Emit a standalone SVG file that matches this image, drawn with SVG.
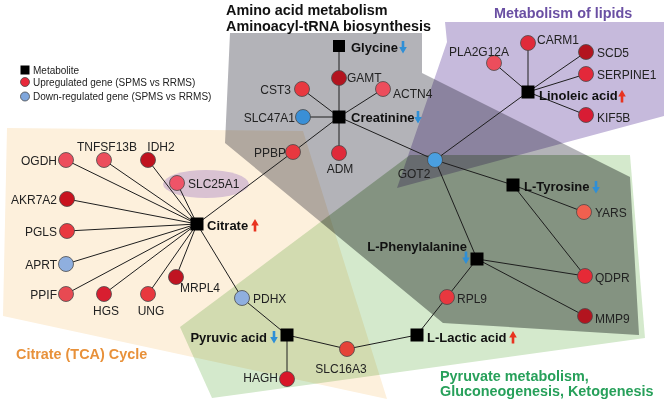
<svg xmlns="http://www.w3.org/2000/svg" xmlns:xlink="http://www.w3.org/1999/xlink" width="664" height="403" viewBox="0 0 664 403">
<style>
.t{font-family:"Liberation Sans",Arial,sans-serif;font-size:12px;fill:#222}
.m{font-family:"Liberation Sans",Arial,sans-serif;font-size:13px;font-weight:bold;fill:#111}
.h{font-family:"Liberation Sans",Arial,sans-serif;font-size:14.4px;font-weight:bold}
.lg{font-family:"Liberation Sans",Arial,sans-serif;font-size:10px;fill:#222}
.r{mix-blend-mode:multiply}
#edges line{stroke:#1e1e1e;stroke-width:1}
circle{stroke:#4a4a4a;stroke-width:0.8}
.sq{fill:#000}
.up{fill:#e8383f}.up2{fill:#e02a3a}.pk{fill:#ec4d5c}.dk{fill:#b3141f}.sa{fill:#f0604f}
.bl{fill:#3a8fd6}.lb{fill:#8fafdf}
</style>
<defs>
<path id="dn" d="M-1.3,-6h2.6v6h2.5L0,6.5L-3.8,0h2.5z" fill="#2f8fd6"/>
<path id="upa" d="M-1.3,6.5h2.6v-6h2.5L0,-6L-3.8,0.5h2.5z" fill="#e8331f"/>
<clipPath id="cg"><polygon points="180,327 410,155 630,155 645,338 212,398"/></clipPath>
</defs>
<rect width="664" height="403" fill="#fff"/>
<g id="regions">
<polygon class="r" points="7,128 303,131 387,399 3,316" fill="#fdf0dc"/>
<polygon class="r" points="230,33 422,33 422,73 630,177 639,335 443,323 225,143" fill="#b3b3b8"/>
<polygon class="r" points="180,327 410,155 630,155 645,338 212,398" fill="#d4e9cc"/>
<polygon class="r" points="230,33 422,33 422,73 630,177 639,335 443,323 225,143" fill="#e2e6e0" clip-path="url(#cg)"/>
<polygon class="r" points="445,22 664,22 664,116 397,188 447,42" fill="#c6badc"/>
<ellipse cx="206" cy="184" rx="43" ry="14" fill="#d9c2d2"/>
</g>
<g id="titles">
<text class="h" x="226" y="15" fill="#111">Amino acid metabolism</text>
<text class="h" x="226" y="31" fill="#111">Aminoacyl-tRNA biosynthesis</text>
<text class="h" x="494" y="17.5" fill="#6a4fa3">Metabolism of lipids</text>
<text class="h" x="16" y="359" fill="#e8913a">Citrate (TCA) Cycle</text>
<text class="h" x="440" y="381" fill="#27a05a">Pyruvate metabolism,</text>
<text class="h" x="440" y="396" fill="#27a05a">Gluconeogenesis, Ketogenesis</text>
</g>
<g id="legend">
<rect x="20.5" y="65.5" width="9" height="9" class="sq"/>
<text class="lg" x="33" y="73.5">Metabolite</text>
<circle cx="25" cy="82" r="4.5" fill="#e8283a"/>
<text class="lg" x="33" y="85.5">Upregulated gene (SPMS vs RRMS)</text>
<circle cx="25" cy="96.5" r="4.5" fill="#7fa6dc"/>
<text class="lg" x="33" y="100">Down-regulated gene (SPMS vs RRMS)</text>
</g>
<g id="edges">
<line x1="339" y1="46" x2="339" y2="117"/>
<line x1="339" y1="117" x2="302" y2="89"/>
<line x1="339" y1="117" x2="383" y2="89"/>
<line x1="339" y1="117" x2="303" y2="117"/>
<line x1="339" y1="117" x2="339" y2="153"/>
<line x1="339" y1="117" x2="293" y2="152"/>
<line x1="293" y1="152" x2="197" y2="224"/>
<line x1="339" y1="117" x2="435" y2="160"/>
<line x1="435" y1="160" x2="528" y2="92"/>
<line x1="435" y1="160" x2="513" y2="185"/>
<line x1="435" y1="160" x2="477" y2="259"/>
<line x1="528" y1="92" x2="494" y2="63"/>
<line x1="528" y1="92" x2="528" y2="43"/>
<line x1="528" y1="92" x2="586" y2="52"/>
<line x1="528" y1="92" x2="586" y2="74"/>
<line x1="528" y1="92" x2="586" y2="115"/>
<line x1="513" y1="185" x2="584" y2="212"/>
<line x1="513" y1="185" x2="585" y2="276"/>
<line x1="477" y1="259" x2="585" y2="276"/>
<line x1="477" y1="259" x2="585" y2="316"/>
<line x1="477" y1="259" x2="447" y2="297"/>
<line x1="447" y1="297" x2="417" y2="335"/>
<line x1="417" y1="335" x2="347" y2="349"/>
<line x1="347" y1="349" x2="287" y2="335"/>
<line x1="287" y1="335" x2="287" y2="379"/>
<line x1="287" y1="335" x2="242" y2="298"/>
<line x1="242" y1="298" x2="197" y2="224"/>
<line x1="197" y1="224" x2="66" y2="160"/>
<line x1="197" y1="224" x2="104" y2="160"/>
<line x1="197" y1="224" x2="148" y2="160"/>
<line x1="197" y1="224" x2="177" y2="183"/>
<line x1="197" y1="224" x2="67" y2="199"/>
<line x1="197" y1="224" x2="67" y2="231"/>
<line x1="197" y1="224" x2="66" y2="264"/>
<line x1="197" y1="224" x2="66" y2="294"/>
<line x1="197" y1="224" x2="104" y2="294"/>
<line x1="197" y1="224" x2="148" y2="294"/>
<line x1="197" y1="224" x2="176" y2="277"/>
</g>
<g id="nodes">
<g id="glycine"><rect class="sq" x="333" y="40" width="12" height="12"/><text class="m" x="351" y="51.5">Glycine</text><use href="#dn" x="403" y="47"/></g>
<g id="gamt"><circle class="dk" cx="339" cy="78" r="7.5"/><text class="t" x="347" y="82">GAMT</text></g>
<g id="cst3"><circle class="up" cx="302" cy="89" r="7.5"/><text class="t" x="291" y="94" text-anchor="end">CST3</text></g>
<g id="actn4"><circle class="pk" cx="383" cy="89" r="7.5"/><text class="t" x="393" y="97.5">ACTN4</text></g>
<g id="slc47a1"><circle class="bl" cx="303" cy="117" r="7.5"/><text class="t" x="295" y="121.5" text-anchor="end">SLC47A1</text></g>
<g id="creatinine"><rect class="sq" x="332.5" y="110.5" width="13" height="13"/><text class="m" x="351" y="122">Creatinine</text><use href="#dn" x="418" y="117"/></g>
<g id="adm"><circle class="up2" cx="339" cy="153" r="7.5"/><text class="t" x="340" y="172.5" text-anchor="middle">ADM</text></g>
<g id="ppbp"><circle class="up" cx="293" cy="152" r="7.5"/><text class="t" x="286" y="156.5" text-anchor="end">PPBP</text></g>
<g id="got2"><circle fill="#4a9fe0" cx="435" cy="160" r="7.5"/><text class="t" x="414" y="178" text-anchor="middle">GOT2</text></g>
<g id="linoleic"><rect class="sq" x="521.5" y="85.5" width="13" height="13"/><text class="m" x="539" y="100">Linoleic acid</text><use href="#upa" x="622" y="96"/></g>
<g id="pla2g12a"><circle class="pk" cx="494" cy="63" r="7.5"/><text class="t" x="479" y="56" text-anchor="middle">PLA2G12A</text></g>
<g id="carm1"><circle class="up2" cx="528" cy="43" r="7.5"/><text class="t" x="537" y="43.5">CARM1</text></g>
<g id="scd5"><circle class="dk" cx="586" cy="52" r="7.5"/><text class="t" x="597" y="57">SCD5</text></g>
<g id="serpine1"><circle fill="#e3283a" cx="586" cy="74" r="7.5"/><text class="t" x="597" y="79">SERPINE1</text></g>
<g id="kif5b"><circle fill="#d81c34" cx="586" cy="115" r="7.5"/><text class="t" x="597" y="121.5">KIF5B</text></g>
<g id="ltyrosine"><rect class="sq" x="506.5" y="178.5" width="13" height="13"/><text class="m" x="524" y="191">L-Tyrosine</text><use href="#dn" x="596" y="187"/></g>
<g id="yars"><circle class="sa" cx="584" cy="212" r="7.5"/><text class="t" x="595" y="216.5">YARS</text></g>
<g id="lphe"><rect class="sq" x="470.5" y="252.5" width="13" height="13"/><text class="m" x="467" y="251" text-anchor="end">L-Phenylalanine</text><use href="#dn" x="466" y="257.5"/></g>
<g id="qdpr"><circle fill="#e62a36" cx="585" cy="276" r="7.5"/><text class="t" x="595" y="282">QDPR</text></g>
<g id="mmp9"><circle class="dk" cx="585" cy="316" r="7.5"/><text class="t" x="595" y="322.5">MMP9</text></g>
<g id="rpl9"><circle class="up" cx="447" cy="297" r="7.5"/><text class="t" x="457" y="302.5">RPL9</text></g>
<g id="llactic"><rect class="sq" x="410.5" y="328.5" width="13" height="13"/><text class="m" x="427" y="341.5">L-Lactic acid</text><use href="#upa" x="513" y="337"/></g>
<g id="slc16a3"><circle fill="#e54438" cx="347" cy="349" r="7.5"/><text class="t" x="341" y="372.5" text-anchor="middle">SLC16A3</text></g>
<g id="pyruvic"><rect class="sq" x="280.5" y="328.5" width="13" height="13"/><text class="m" x="267" y="341.5" text-anchor="end">Pyruvic acid</text><use href="#dn" x="274" y="337"/></g>
<g id="hagh"><circle fill="#d81628" cx="287" cy="379" r="7.5"/><text class="t" x="278" y="381.5" text-anchor="end">HAGH</text></g>
<g id="pdhx"><circle class="lb" cx="242" cy="298" r="7.5"/><text class="t" x="253" y="302.5">PDHX</text></g>
<g id="citrate"><rect class="sq" x="190.5" y="217.5" width="13" height="13"/><text class="m" x="207" y="229.5">Citrate</text><use href="#upa" x="255" y="225"/></g>
<g id="ogdh"><circle class="pk" cx="66" cy="160" r="7.5"/><text class="t" x="57" y="164.5" text-anchor="end">OGDH</text></g>
<g id="tnfsf13b"><circle class="pk" cx="104" cy="160" r="7.5"/><text class="t" x="107" y="150.5" text-anchor="middle">TNFSF13B</text></g>
<g id="idh2"><circle fill="#c0121e" cx="148" cy="160" r="7.5"/><text class="t" x="161" y="150.5" text-anchor="middle">IDH2</text></g>
<g id="slc25a1"><circle fill="#ef5468" cx="177" cy="183" r="7.5"/><text class="t" x="188" y="187.5">SLC25A1</text></g>
<g id="akr7a2"><circle fill="#c8121e" cx="67" cy="199" r="7.5"/><text class="t" x="57" y="204" text-anchor="end">AKR7A2</text></g>
<g id="pgls"><circle class="up" cx="67" cy="231" r="7.5"/><text class="t" x="57" y="236" text-anchor="end">PGLS</text></g>
<g id="aprt"><circle class="lb" cx="66" cy="264" r="7.5"/><text class="t" x="57" y="269" text-anchor="end">APRT</text></g>
<g id="ppif"><circle fill="#e84a52" cx="66" cy="294" r="7.5"/><text class="t" x="57" y="298.5" text-anchor="end">PPIF</text></g>
<g id="hgs"><circle fill="#d81e30" cx="104" cy="294" r="7.5"/><text class="t" x="106" y="314.5" text-anchor="middle">HGS</text></g>
<g id="ung"><circle class="up" cx="148" cy="294" r="7.5"/><text class="t" x="151" y="314.5" text-anchor="middle">UNG</text></g>
<g id="mrpl4"><circle fill="#c01422" cx="176" cy="277" r="7.5"/><text class="t" x="180" y="291.5">MRPL4</text></g>
</g>
</svg>
